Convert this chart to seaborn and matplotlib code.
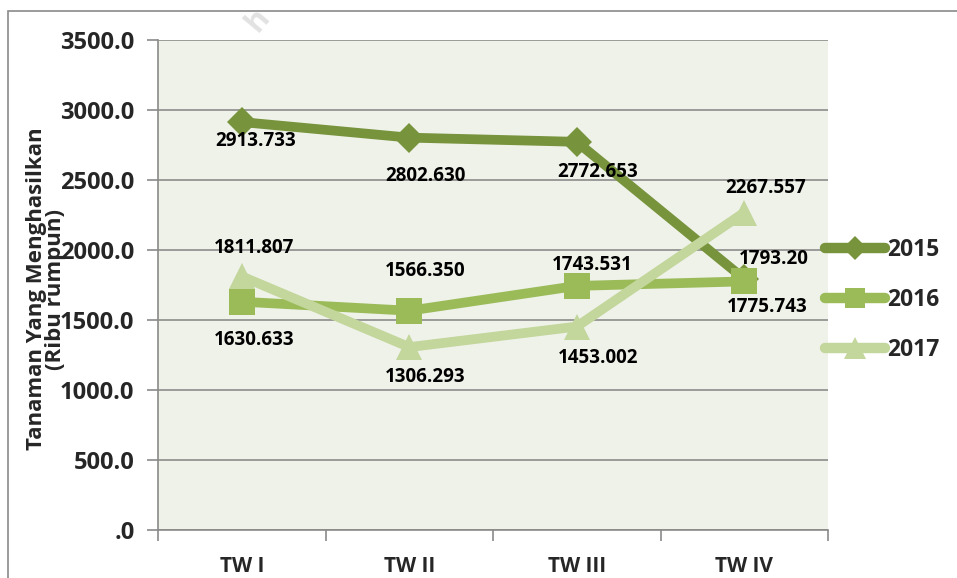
import matplotlib
matplotlib.use("Agg")
import matplotlib.pyplot as plt
import seaborn as sns
import pandas as pd
from matplotlib.lines import Line2D
from matplotlib.patches import Rectangle
from matplotlib.ticker import FixedLocator, FuncFormatter

categories = ["TW I", "TW II", "TW III", "TW IV"]
years = ["2015", "2016", "2017"]
v2015 = [2913.733, 2802.630, 2772.653, 1793.20]
v2016 = [1630.633, 1566.350, 1743.531, 1775.743]
v2017 = [1811.807, 1306.293, 1453.002, 2267.557]
labels2015 = ["2913.733", "2802.630", "2772.653", "1793.20"]
labels2016 = ["1630.633", "1566.350", "1743.531", "1775.743"]
labels2017 = ["1811.807", "1306.293", "1453.002", "2267.557"]
yticks = [0, 500, 1000, 1500, 2000, 2500, 3000, 3500]

sns.set_theme(style="white")
plt.rcParams['font.family'] = ['Open Sans', 'DejaVu Sans']
plt.rcParams['font.weight'] = 'bold'

fig = plt.figure(figsize=(9.57, 5.78), dpi=100)
W, H = 957, 578
ax = fig.add_axes([158 / W, (H - 530) / H, (828 - 158) / W, (530 - 40) / H])
ax.set_facecolor("#EFF2E9")

# outer chart border
fig.patches.append(Rectangle((8 / W, -0.05), 1.2, (H - 11) / H + 0.05, transform=fig.transFigure,
                             fill=False, edgecolor="#8A8A8A", lw=1.2, zorder=0))
# faint watermark
fig.text(258 / W, (H - 20) / H, "h", rotation=50, color="#E2E2E2", fontsize=22,
         fontweight='bold', ha='center', va='center', zorder=0)

colors = {"2015": "#77933C", "2016": "#9BBB59", "2017": "#C3D69B"}
markers = {"2015": "D", "2016": "s", "2017": "^"}
msizes = {"2015": 15, "2016": 18.5, "2017": 19}
series = {"2015": v2015, "2016": v2016, "2017": v2017}
texts = {"2015": labels2015, "2016": labels2016, "2017": labels2017}
offsets = {
    "2015": [(14, -19), (16, -38), (21, -30), (30, 20)],
    "2016": [(12, -38), (16, 40), (15, 21), (23, -26)],
    "2017": [(12, 28), (16, -30), (21, -31), (21, 25)],
}

xs = list(range(len(categories)))
for yr in years:
    df = pd.DataFrame({"x": xs, "y": series[yr]})
    sns.lineplot(data=df, x="x", y="y", ax=ax, color=colors[yr], lw=7,
                 marker=markers[yr], markersize=msizes[yr], markeredgewidth=0,
                 markeredgecolor=colors[yr], zorder=3)

for yr in years:
    for i, (v, t) in enumerate(zip(series[yr], texts[yr])):
        ax.annotate(t, (xs[i], v), xytext=offsets[yr][i], textcoords="offset pixels",
                    ha="center", va="center", fontsize=13.5, fontweight="bold",
                    color="black", zorder=5, annotation_clip=False)

ax.set_xlim(-0.5, 3.5)
ax.set_ylim(0, 3500)
ax.set_yticks(yticks)
ax.yaxis.set_major_formatter(FuncFormatter(lambda v, p: ("%.1f" % v).lstrip("0") if v == 0 else "%.1f" % v))
ax.set_xticks(xs)
ax.set_xticklabels(categories)
ax.xaxis.set_minor_locator(FixedLocator([-0.5, 0.5, 1.5, 2.5, 3.5]))
ax.tick_params(axis="x", which="major", length=0, pad=19, labelsize=15)
ax.tick_params(axis="x", which="minor", length=8, width=1.2, color="#8A8A8A", direction="out", bottom=True)
ax.tick_params(axis="y", which="major", length=8, width=1.2, color="#8A8A8A", direction="out",
               left=True, pad=9, labelsize=17)
for lab in ax.get_xticklabels() + ax.get_yticklabels():
    lab.set_fontweight("bold")
ax.grid(axis="y", color="#8C8C8C", lw=1.2)
ax.set_axisbelow(True)
for s in ["top", "right"]:
    ax.spines[s].set_visible(False)
for s in ["left", "bottom"]:
    ax.spines[s].set_color("#8A8A8A")
    ax.spines[s].set_linewidth(1.2)
ax.set_xlabel("")
ax.set_ylabel("")

fig.text(46 / W, (H - 289) / H, "Tanaman Yang Menghasilkan\n(Ribu rumpun)", rotation=90,
         ha="center", va="center", fontsize=16, fontweight="bold", linespacing=0.92)

handles = [Line2D([], [], color=colors[yr], lw=7.5, marker=markers[yr], markersize=msizes[yr] * 0.8,
                  markeredgewidth=0) for yr in years]
leg = fig.legend(handles, years, loc="center left", bbox_to_anchor=(825 / W, (H - 300) / H),
                 frameon=False, handlelength=2.6, labelspacing=1.15, handletextpad=0.13,
                 borderpad=0, borderaxespad=0, prop={"size": 16.5, "weight": "bold"})

fig.savefig("out.png", dpi=100)
